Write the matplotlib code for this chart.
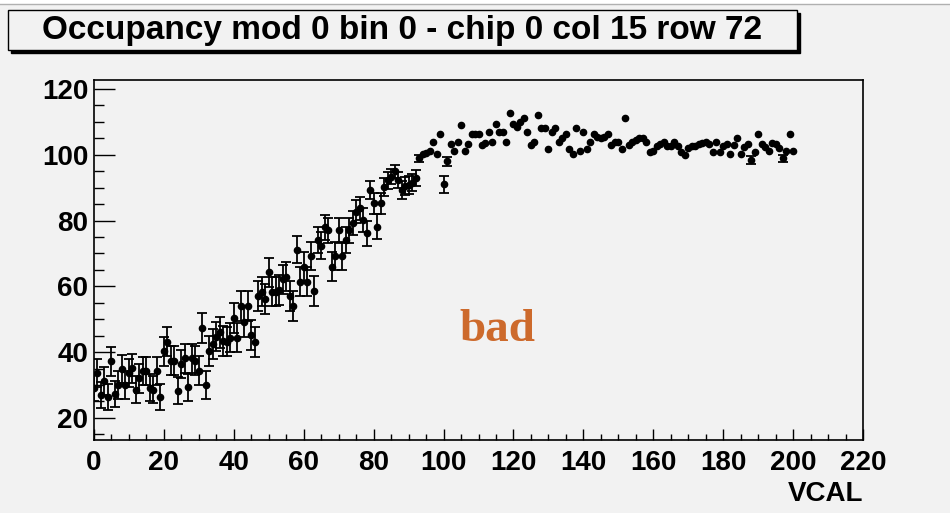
import numpy as np
import matplotlib.pyplot as plt
from matplotlib.patches import Rectangle

# VCAL scan, one point per VCAL unit from 0 to 200
vcal = list(range(0, 201))

occ_low = [29.2, 33.6, 27.0, 31.2, 26.3, 37.3, 27.3, 30.0, 34.9, 30.0,
           33.6, 35.1, 28.5, 32.0, 34.3, 34.3, 29.2, 28.5, 34.3, 26.3,
           40.2, 43.2, 37.4, 37.4, 28.3, 36.4, 38.1, 29.3, 38.1, 37.4,
           34.4, 47.4, 30.0, 40.4, 42.5, 44.7, 46.0, 43.4, 43.2, 44.4,
           50.3, 44.4, 54.1, 49.1, 54.0, 45.2, 43.0, 57.1, 58.4, 56.1,
           64.3, 58.4, 58.4, 58.9, 62.2, 62.9, 57.1, 54.0, 71.1, 61.4,
           66.0, 61.4, 69.3, 58.6, 74.1, 72.3, 78.0, 77.1, 66.0, 69.2,
           77.1, 69.2, 74.1, 77.1, 79.2, 82.7, 83.7, 80.2, 76.1, 89.3,
           85.3, 78.1, 85.3, 90.1, 92.2, 93.3, 94.9, 92.3, 89.3, 90.5,
           90.8, 91.5, 92.9, 98.9, 100.2, 100.5, 101.0, 104.0, 100.2, 106.3,
           91.0, 98.0]
occ_high = [103.2, 101.0, 104.0, 109.0, 101.0, 103.2, 106.2, 106.2,
            106.2, 103.0, 103.7, 106.8, 104.0, 109.3, 106.8, 106.8, 104.0, 112.8,
            109.3, 108.5, 110.0, 111.3, 106.8, 103.0, 104.0, 112.1, 108.2, 108.2,
            101.8, 106.8, 108.2, 104.0, 105.0, 106.2, 101.8, 100.2, 108.2, 101.0,
            106.8, 101.8, 104.0, 106.2, 105.5, 105.2, 105.5, 106.2, 103.0, 103.8,
            103.8, 101.8, 111.1, 103.0, 103.8, 104.5, 105.2, 105.2, 104.0, 100.8,
            101.2, 102.5, 103.2, 104.0, 102.5, 102.5, 104.0, 102.5, 100.8, 100.0,
            102.0, 102.5, 102.5, 103.2, 103.5, 104.0, 103.2, 100.8, 103.8, 100.8,
            102.5, 103.2, 100.2, 103.0, 105.2, 100.2, 102.2, 103.2, 98.4, 100.8,
            106.2, 103.2, 102.2, 101.2, 103.5, 103.2, 102.0, 98.9, 101.2, 106.2,
            101.2]

err_low = [4.2, 4.3, 4.0, 4.2, 4.0, 4.4, 4.0, 4.2, 4.3, 4.2,
           4.3, 4.4, 4.1, 4.3, 4.3, 4.3, 4.2, 4.1, 4.3, 4.0,
           4.5, 4.5, 4.4, 4.4, 4.1, 4.4, 4.4, 4.2, 4.4, 4.4,
           4.3, 4.6, 4.2, 4.5, 4.5, 4.5, 4.6, 4.5, 4.5, 4.5,
           4.6, 4.5, 4.6, 4.6, 4.6, 4.5, 4.5, 4.5, 4.5, 4.5,
           4.4, 4.5, 4.5, 4.5, 4.4, 4.4, 4.5, 4.6, 4.1, 4.4,
           4.3, 4.4, 4.2, 4.5, 4.0, 4.1, 3.8, 3.8, 4.3, 4.2,
           3.8, 4.2, 4.0, 3.8, 3.7, 3.5, 3.4, 3.6, 3.9, 2.8,
           3.2, 3.8, 3.2, 2.7, 2.5, 2.3, 2.0, 2.4, 2.8, 2.7,
           2.6, 2.5, 2.3, 1.0, 0.0, 0.0, 0.0, 0.0, 0.0, 0.0,
           2.6, 1.3]
# above VCAL 101 only two points sit below 100 and carry a visible bar
err_high = [0.0] * len(occ_high)
err_high[188 - 102] = 1.1
err_high[197 - 102] = 1.0

occ = np.array(occ_low + occ_high)
err = np.array(err_low + err_high)
x = np.array(vcal)

bg = '#f2f2f2'
plt.rcParams['font.family'] = ['Liberation Sans', 'DejaVu Sans']

fig = plt.figure(figsize=(9.5, 5.13), dpi=100, facecolor=bg)
ax = fig.add_axes([94/950, 1 - 440/513, (863 - 94)/950, (440 - 80)/513])
ax.set_facecolor(bg)

sel = err > 0
ax.errorbar(x[sel], occ[sel], yerr=err[sel], fmt='o', color='black',
            ms=4.5, elinewidth=1.3, capsize=3.5, capthick=1.3)
ax.plot(x[~sel], occ[~sel], 'o', color='black', ms=4.5)

ax.set_xlim(0, 220)
ax.set_ylim(13.3, 122.7)
ax.set_xticks(np.arange(0, 221, 20))
ax.set_xticks(np.arange(0, 221, 5), minor=True)
ax.set_yticks(np.arange(20, 121, 20))
ax.set_yticks(np.arange(15, 121, 5), minor=True)
ax.tick_params(axis='x', which='major', direction='in', length=8, width=1, pad=7)
ax.tick_params(axis='x', which='minor', direction='in', length=4, width=1)
ax.tick_params(axis='y', which='major', direction='in', length=15, width=1, pad=4)
ax.tick_params(axis='y', which='minor', direction='in', length=7.5, width=1)
for lab in ax.get_xticklabels() + ax.get_yticklabels():
    lab.set_fontweight('bold')
    lab.set_fontsize(20)
for s in ax.spines.values():
    s.set_linewidth(1.2)

ax.set_xlabel('VCAL', fontsize=20, fontweight='bold', loc='right', labelpad=4)

ax.text(0.525, 0.305, 'bad', transform=ax.transAxes, ha='center', va='center',
        fontsize=34, fontweight='bold', color='#cd6a2c',
        family=['Liberation Serif', 'DejaVu Serif'])

# white strip along the top edge
fig.patches.append(Rectangle((0, 1 - 4/513), 1, 4/513, transform=fig.transFigure,
                             facecolor='white', edgecolor='none', zorder=0))
fig.lines.append(plt.Line2D([0, 1], [1 - 4/513, 1 - 4/513], transform=fig.transFigure,
                            color='#b0b0b0', lw=1))

# title box with drop shadow, ROOT style
fig.patches.append(Rectangle((11/950, 1 - 53/513), 789/950, 40/513,
                             transform=fig.transFigure, facecolor='black',
                             edgecolor='black', zorder=1))
fig.patches.append(Rectangle((8/950, 1 - 50/513), 789/950, 40/513,
                             transform=fig.transFigure, facecolor=bg,
                             edgecolor='black', lw=1, zorder=2))
fig.text(42/950, 1 - 30/513, 'Occupancy mod 0 bin 0 - chip 0 col 15 row 72',
         ha='left', va='center', fontsize=24, fontweight='bold', zorder=3)

fig.savefig('out.png', dpi=100, facecolor=bg)
